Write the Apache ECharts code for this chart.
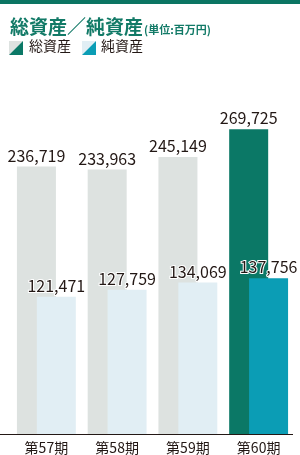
<!DOCTYPE html>
<html>
<head>
<meta charset="utf-8">
<script src="https://cdn.jsdelivr.net/npm/echarts@6/dist/echarts.min.js"></script>
<style>
  html, body { margin: 0; padding: 0; background: #fff; }
  #main { width: 300px; height: 455px; }
</style>
</head>
<body>
<div id="main"></div>
<script>
// データ
var periods = ['第57期', '第58期', '第59期', '第60期'];
var totalAssets = [236719, 233963, 245149, 269725];
var netAssets = [121471, 127759, 134069, 137756];

var FONT = '"Noto Sans CJK JP", "Noto Sans", sans-serif';

// 最新期だけ色を変える
function withHighlight(values, normal, last) {
    return values.map(function (v, i) {
        return {
            value: v,
            itemStyle: { color: i === values.length - 1 ? last : normal }
        };
    });
}

var myChart = echarts.init(document.getElementById('main'));

var labelStyle = {
    show: true,
    position: 'top',
    distance: 3,
    fontFamily: FONT,
    fontSize: 16,
    color: '#231815',
    textBorderColor: '#fff',
    textBorderWidth: 2,
    formatter: function (p) {
        return p.value.toLocaleString('en-US');
    }
};

var option = {
    animation: false,
    title: {
        left: 5,
        top: 9,
        text: '{a|総資産／純資産}{b|(単位:百万円)}',
        textStyle: {
            rich: {
                a: { fontFamily: FONT, fontSize: 19, fontWeight: 'bold', color: '#127a67', verticalAlign: 'bottom', lineHeight: 22 },
                b: { fontFamily: FONT, fontSize: 11, fontWeight: 'bold', color: '#127a67', verticalAlign: 'bottom', lineHeight: 16, padding: [0, 0, 1, 1] }
            }
        }
    },
    grid: {
        left: 11,
        right: 6,
        top: 95,
        bottom: 21
    },
    xAxis: {
        type: 'category',
        data: periods,
        axisLine: { show: false },
        axisTick: { show: false },
        axisLabel: {
            fontFamily: FONT,
            fontSize: 14,
            color: '#231815',
            margin: 7
        }
    },
    yAxis: {
        type: 'value',
        min: 0,
        max: 300000,
        show: false,
        splitLine: { show: false }
    },
    series: [
        {
            name: '総資産',
            type: 'bar',
            barWidth: 39,
            barGap: '-49%',
            data: withHighlight(totalAssets, '#dde2e0', '#0b7866'),
            label: labelStyle
        },
        {
            name: '純資産',
            type: 'bar',
            barWidth: 39,
            data: withHighlight(netAssets, '#e1eef4', '#0b9db5'),
            label: labelStyle
        }
    ],
    graphic: [
        // 上部の帯
        { type: 'rect', left: 0, top: 0, shape: { width: 300, height: 4 }, style: { fill: '#0b7563' } },
        // 軸線
        { type: 'line', shape: { x1: 0, y1: 434.5, x2: 293, y2: 434.5 }, style: { stroke: '#231815', lineWidth: 1.2 }, z: 10 },
        // 凡例
        { type: 'polygon', shape: { points: [[9, 41], [23, 41], [9, 55]] }, style: { fill: '#dde2e0' } },
        { type: 'polygon', shape: { points: [[23, 41], [23, 55], [9, 55]] }, style: { fill: '#0b7866' } },
        { type: 'text', left: 29, top: 39, style: { text: '総資産', font: '14px ' + FONT, fill: '#231815' } },
        { type: 'polygon', shape: { points: [[82, 41], [96, 41], [82, 55]] }, style: { fill: '#e1eef4' } },
        { type: 'polygon', shape: { points: [[96, 41], [96, 55], [82, 55]] }, style: { fill: '#0b9db5' } },
        { type: 'text', left: 101, top: 39, style: { text: '純資産', font: '14px ' + FONT, fill: '#231815' } }
    ]
};

myChart.setOption(option);
</script>
</body>
</html>
